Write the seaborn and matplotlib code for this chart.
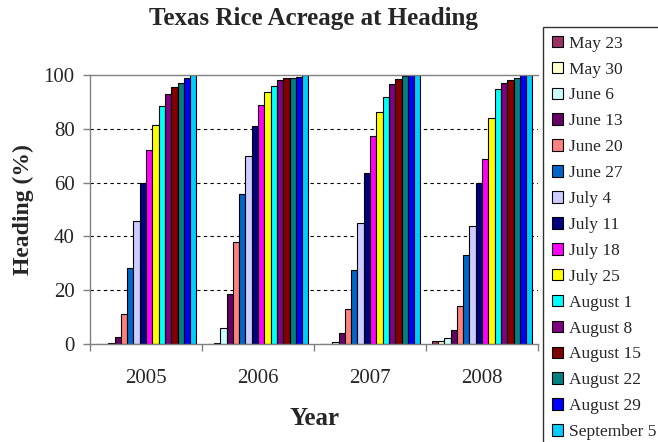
import matplotlib
matplotlib.use("Agg")
import matplotlib.pyplot as plt
import seaborn as sns
import pandas as pd
import numpy as np

years = ["2005", "2006", "2007", "2008"]
dates = ["May 23", "May 30", "June 6", "June 13", "June 20", "June 27", "July 4",
         "July 11", "July 18", "July 25", "August 1", "August 8", "August 15",
         "August 22", "August 29", "September 5"]
colors = ["#993366", "#FFFFCC", "#CCFFFF", "#660066", "#FF8080", "#0066CC", "#CCCCFF",
          "#000080", "#FF00FF", "#FFFF00", "#00FFFF", "#800080", "#800000",
          "#008080", "#0000FF", "#00CCFF"]
heading_2005 = [0, 0, 0.5, 2.5, 11, 28.2, 45.7, 60, 72, 81.4, 88.5, 92.8, 95.5, 96.9, 98.8, 100]
heading_2006 = [0, 0.5, 5.8, 18.7, 38.1, 55.6, 70, 81, 88.8, 93.5, 96, 98, 98.8, 98.8, 99.4, 100]
heading_2007 = [0, 0, 0.9, 4, 12.9, 27.5, 44.8, 63.5, 77.4, 86.1, 92, 96.8, 98.5, 99.8, 100, 100]
heading_2008 = [1.1, 1.1, 2.1, 5.2, 14, 33, 44, 60, 68.9, 83.9, 94.9, 96.9, 98, 98.9, 100, 100]

rows = []
for y, vals in zip(years, [heading_2005, heading_2006, heading_2007, heading_2008]):
    for d, v in zip(dates, vals):
        rows.append({"Year": y, "Date": d, "Heading": v})
df = pd.DataFrame(rows)

sns.set_theme(style="white")
plt.rcParams['font.family'] = ['Liberation Serif', 'DejaVu Serif']

fig = plt.figure(figsize=(6.58, 4.42), dpi=100)
ax = fig.add_axes([90/658, 1-344/442, (538-90)/658, (344-75)/442])

sns.barplot(data=df, x="Year", y="Heading", hue="Date", hue_order=dates,
            palette=colors, edgecolor="black", linewidth=0.8, width=0.9,
            saturation=1, ax=ax, legend=True, errorbar=None)

ax.set_ylim(0, 100)
ax.set_xlim(-0.5, 3.5)
ax.set_yticks([0, 20, 40, 60, 80, 100])
ax.set_yticklabels(["0", "20", "40", "60", "80", "100"], fontsize=15)
ax.set_xticks([0, 1, 2, 3])
ax.set_xticklabels(years, fontsize=15)
ax.set_xticks([-0.5, 0.5, 1.5, 2.5, 3.5], minor=True)
ax.tick_params(axis="x", which="major", length=0, pad=18)
ax.tick_params(axis="x", which="minor", length=5, width=1, color="#808080", bottom=True, direction="out")
ax.tick_params(axis="y", which="major", length=5, width=1, color="#808080", left=True, direction="out", pad=6)
for y in [20, 40, 60, 80]:
    ax.axhline(y, color="black", linestyle=(0, (3, 3)), linewidth=0.8, zorder=0)
for s in ["left", "bottom", "top"]:
    ax.spines[s].set_color("#808080")
    ax.spines[s].set_linewidth(1)
ax.spines["right"].set_visible(False)
ax.set_axisbelow(True)

ax.set_xlabel("Year", fontsize=18, fontweight="bold", labelpad=14)
ax.set_ylabel("Heading (%)", fontsize=17, fontweight="bold", labelpad=7)
fig.text(313/658, 1-18/442, "Texas Rice Acreage at Heading", fontsize=18,
         fontweight="bold", ha="center", va="center")

handles, labels = ax.get_legend_handles_labels()
ax.get_legend().remove()
leg = fig.legend(handles, labels, loc="upper left",
                 bbox_to_anchor=(543/658, 1-27/442), fontsize=12.5,
                 frameon=True, fancybox=False, edgecolor="black",
                 handlelength=0.65, handleheight=0.65, handletextpad=0.35,
                 labelspacing=0.57, borderpad=0.5, borderaxespad=0)
leg.get_frame().set_linewidth(1)

fig.savefig("out.png", dpi=100)
